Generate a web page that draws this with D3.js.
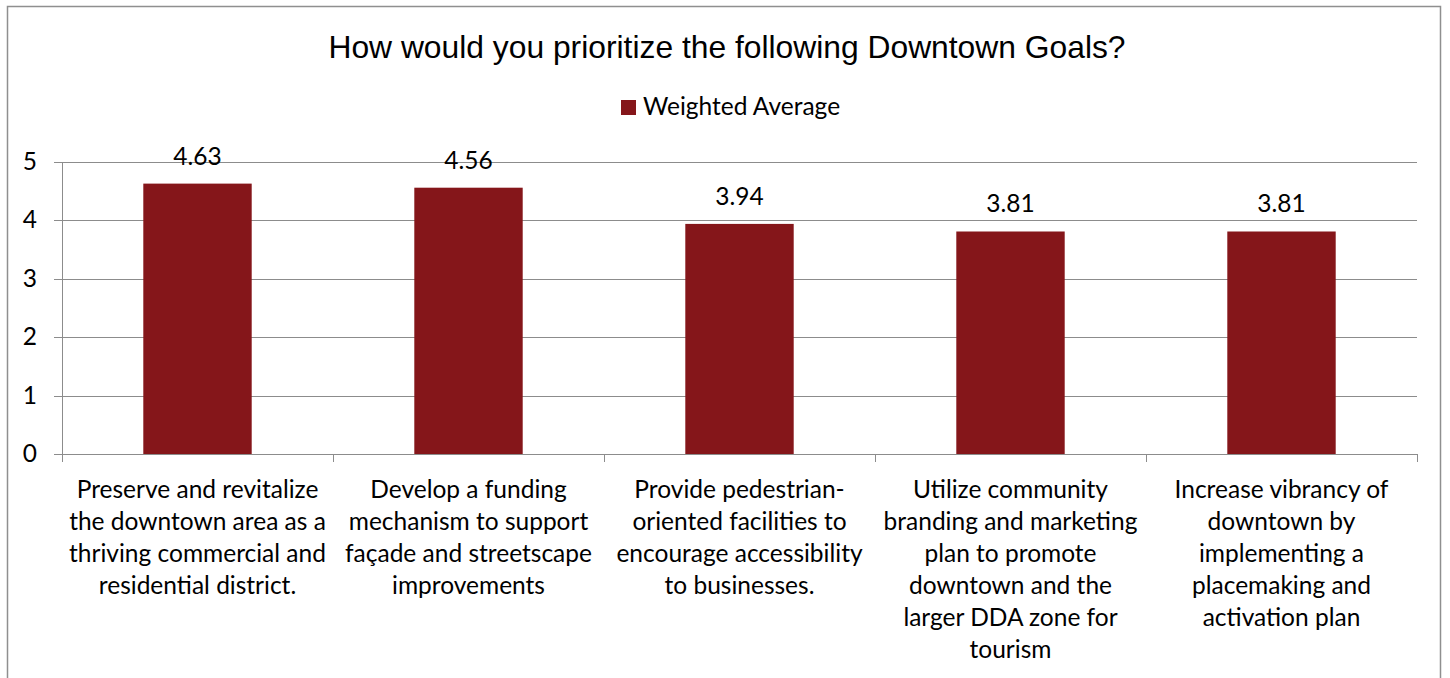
<!DOCTYPE html>
<html>
<head>
<meta charset="utf-8">
<script src="https://cdn.jsdelivr.net/npm/d3@7"></script>
<style>
  html, body { margin: 0; padding: 0; background: #fff; }
  svg { display: block; }
</style>
</head>
<body>
<svg id="chart" width="1450" height="678"></svg>
<script>
const title = "How would you prioritize the following Downtown Goals?";
const seriesName = "Weighted Average";
const categories = [
  ["Preserve and revitalize", "the downtown area as a", "thriving commercial and", "residential district."],
  ["Develop a funding", "mechanism to support", "façade and streetscape", "improvements"],
  ["Provide pedestrian-", "oriented facilities to", "encourage accessibility", "to businesses."],
  ["Utilize community", "branding and marketing", "plan to promote", "downtown and the", "larger DDA zone for", "tourism"],
  ["Increase vibrancy of", "downtown by", "implementing a", "placemaking and", "activation plan"]
];
const values = [4.63, 4.56, 3.94, 3.81, 3.81];
const yTicks = [0, 1, 2, 3, 4, 5];

(function () {
const svg = d3.select("#chart");
const barColor = "#85161a";
const gridColor = "#8c8c8c";
const bodyFont = "Lato, 'Open Sans', sans-serif";
const fs = 24.5;

// outer frame
svg.append("path")
  .attr("d", "M7.5,678 V6.5 H1440.5 V678")
  .attr("fill", "none").attr("stroke", "#8f8f8f").attr("stroke-width", 1.5);

const pLeft = 62, pRight = 1417, pTop = 162, pBottom = 454;
const idx = categories.map((d, i) => i);
const x = d3.scaleBand().domain(idx).range([pLeft, pRight]).paddingInner(0.6).paddingOuter(0.3);
const xb = d3.scaleBand().domain(idx).range([pLeft, pRight]).padding(0);
const y = d3.scaleLinear().domain([0, 5]).range([pBottom, pTop]);

// gridlines
svg.append("g").selectAll("line").data(yTicks).join("line")
  .attr("x1", pLeft - 8).attr("x2", pRight)
  .attr("y1", d => Math.round(y(d)) + 0.5).attr("y2", d => Math.round(y(d)) + 0.5)
  .attr("stroke", gridColor).attr("stroke-width", 1);

// y axis line
svg.append("line").attr("x1", pLeft + 0.5).attr("x2", pLeft + 0.5)
  .attr("y1", pTop).attr("y2", pBottom + 8).attr("stroke", gridColor);

// category tick marks
const bounds = idx.map(i => xb(i)).concat([pRight]);
svg.append("g").selectAll("line").data(bounds).join("line")
  .attr("x1", d => Math.round(d) + 0.5).attr("x2", d => Math.round(d) + 0.5)
  .attr("y1", pBottom).attr("y2", pBottom + 8).attr("stroke", gridColor);

// y tick labels
svg.append("g").selectAll("text").data(yTicks).join("text")
  .attr("x", 37).attr("y", d => y(d) + 8)
  .attr("text-anchor", "end")
  .attr("font-family", bodyFont).attr("font-size", fs).attr("fill", "#000")
  .text(d => d);

// bars
svg.append("g").selectAll("rect").data(values).join("rect")
  .attr("x", (d, i) => x(i)).attr("width", x.bandwidth())
  .attr("y", d => y(d)).attr("height", d => y(0) - y(d))
  .attr("fill", barColor);

// value labels
svg.append("g").selectAll("text").data(values).join("text")
  .attr("x", (d, i) => x(i) + x.bandwidth() / 2)
  .attr("y", d => y(d) - 19)
  .attr("text-anchor", "middle")
  .attr("font-family", bodyFont).attr("font-size", fs).attr("fill", "#000")
  .text(d => d.toFixed(2));

// category labels
const cat = svg.append("g").selectAll("text").data(categories).join("text")
  .attr("text-anchor", "middle")
  .attr("font-family", bodyFont).attr("font-size", fs).attr("fill", "#000");
cat.each(function(lines, i) {
  const t = d3.select(this);
  lines.forEach((ln, j) => {
    t.append("tspan").attr("x", xb(i) + xb.bandwidth() / 2)
      .attr("y", 498 + j * 32).text(ln);
  });
});

// title
svg.append("text").attr("x", 727).attr("y", 58)
  .attr("text-anchor", "middle")
  .attr("font-family", "'Liberation Sans', Arial, sans-serif").attr("font-size", 31.8)
  .attr("fill", "#000").text(title);

// legend
svg.append("rect").attr("x", 621).attr("y", 100).attr("width", 15).attr("height", 15).attr("fill", barColor);
svg.append("text").attr("x", 643).attr("y", 115)
  .attr("font-family", bodyFont).attr("font-size", fs).attr("fill", "#000")
  .text(seriesName);
})();
</script>
</body>
</html>
